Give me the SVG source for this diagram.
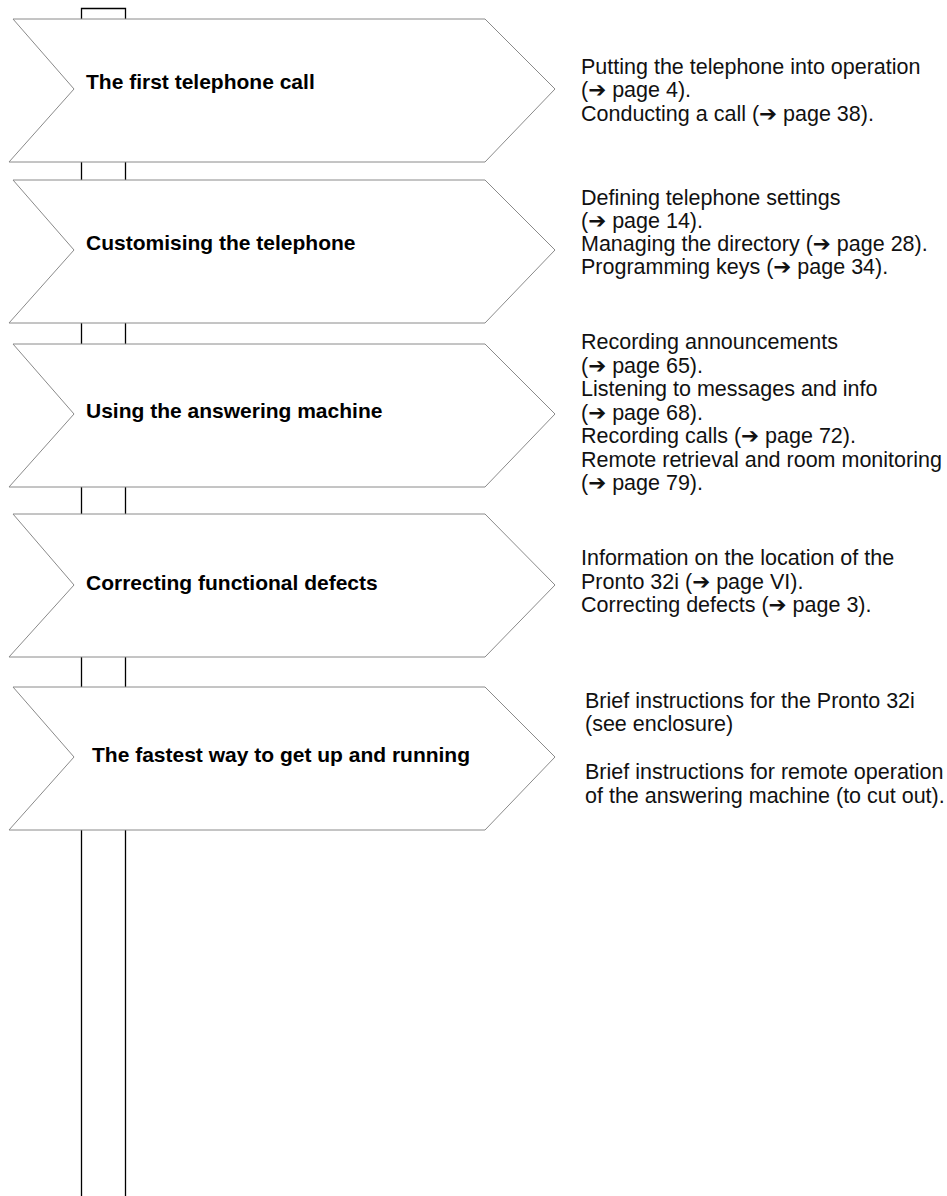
<svg xmlns="http://www.w3.org/2000/svg" width="947" height="1196" viewBox="0 0 947 1196">
<style>
.sign{fill:#fff;stroke:#8a8a8a;stroke-width:1}
.post{fill:none;stroke:#000;stroke-width:1.3}
.title{font-family:"Liberation Sans",Arial,sans-serif;font-weight:bold;font-size:21px;fill:#000}
.desc{font-family:"Liberation Sans",Arial,"DejaVu Sans",sans-serif;font-size:21.5px;fill:#111}
</style>
<rect width="947" height="1196" fill="#fff"/>
<g id="post">
<path class="post" d="M81.5,1196 V8.5 H125.5 V1196"/>
</g>
<g id="sign1">
<polygon class="sign" points="13,19 485,19 555,89 485,162 9,162 74,89"/>
<text class="title" x="86" y="89">The first telephone call</text>
<text class="desc"><tspan x="581" y="74">Putting the telephone into operation</tspan><tspan x="581" y="97">(➔ page 4).</tspan><tspan x="581" y="121">Conducting a call (➔ page 38).</tspan></text>
</g>
<g id="sign2">
<polygon class="sign" points="13,180 485,180 555,250 485,323 9,323 74,250"/>
<text class="title" x="86" y="250">Customising the telephone</text>
<text class="desc"><tspan x="581" y="205">Defining telephone settings</tspan><tspan x="581" y="228">(➔ page 14).</tspan><tspan x="581" y="251">Managing the directory (➔ page 28).</tspan><tspan x="581" y="274">Programming keys (➔ page 34).</tspan></text>
</g>
<g id="sign3">
<polygon class="sign" points="13,344 485,344 555,414 485,487 9,487 74,414"/>
<text class="title" x="86" y="418">Using the answering machine</text>
<text class="desc"><tspan x="581" y="349">Recording announcements</tspan><tspan x="581" y="373">(➔ page 65).</tspan><tspan x="581" y="396">Listening to messages and info</tspan><tspan x="581" y="420">(➔ page 68).</tspan><tspan x="581" y="443">Recording calls (➔ page 72).</tspan><tspan x="581" y="467">Remote retrieval and room monitoring</tspan><tspan x="581" y="490">(➔ page 79).</tspan></text>
</g>
<g id="sign4">
<polygon class="sign" points="13,514 485,514 555,585 485,657 9,657 74,585"/>
<text class="title" x="86" y="590">Correcting functional defects</text>
<text class="desc"><tspan x="581" y="565">Information on the location of the</tspan><tspan x="581" y="589">Pronto 32i (➔ page VI).</tspan><tspan x="581" y="612">Correcting defects (➔ page 3).</tspan></text>
</g>
<g id="sign5">
<polygon class="sign" points="13,687 485,687 555,757 485,830 9,830 74,757"/>
<text class="title" x="92" y="762">The fastest way to get up and running</text>
<text class="desc"><tspan x="585" y="708">Brief instructions for the Pronto 32i</tspan><tspan x="585" y="731">(see enclosure)</tspan><tspan x="585" y="779">Brief instructions for remote operation</tspan><tspan x="585" y="803">of the answering machine (to cut out).</tspan></text>
</g>
</svg>
